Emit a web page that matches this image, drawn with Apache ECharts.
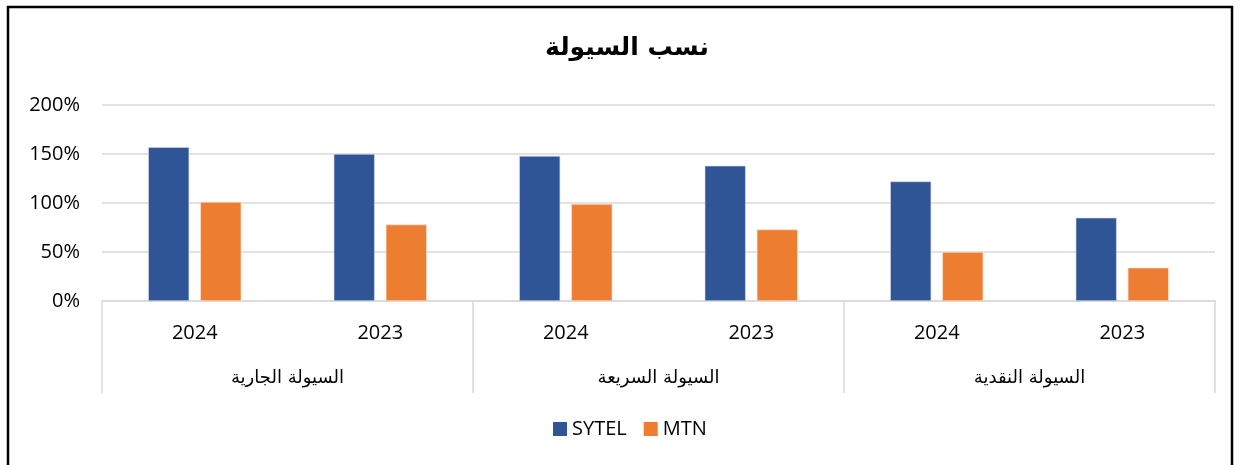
<!DOCTYPE html>
<html>
<head>
<meta charset="utf-8">
<script src="https://cdn.jsdelivr.net/npm/echarts@6/dist/echarts.min.js"></script>
<style>
  html, body { margin: 0; padding: 0; background: #fff; }
  #chart { width: 1242px; height: 465px; }
</style>
</head>
<body>
<div id="chart"></div>
<script>
// السنوات والمجموعات
var years = ['2024', '2023', '2024', '2023', '2024', '2023'];
var groups = ['السيولة الجارية', 'السيولة السريعة', 'السيولة النقدية'];
var sytel = [157, 150, 148, 138, 122, 85];
var mtn = [101, 78, 99, 73, 50, 34];
var yTicks = [0, 50, 100, 150, 200];

var arabicFont = '"DejaVu Sans", "Noto Sans", sans-serif';
var latinFont = '"Open Sans", "Noto Sans", sans-serif';

var chart = echarts.init(document.getElementById('chart'));

var option = {
    backgroundColor: '#fff',
    animation: false,
    title: {
        text: 'نسب السيولة',
        left: 540,
        top: 31,
        textStyle: {
            fontFamily: arabicFont,
            fontSize: 25,
            fontWeight: 'bold',
            color: '#000'
        }
    },
    color: ['#2F5597', '#ED7D31'],
    grid: {
        left: 102,
        right: 27,
        top: 105,
        bottom: 164
    },
    legend: {
        bottom: 21,
        left: 548,
        itemWidth: 14,
        itemHeight: 14,
        itemGap: 17,
        icon: 'rect',
        itemStyle: { borderWidth: 0 },
        textStyle: {
            fontFamily: latinFont,
            fontSize: 20,
            color: '#000'
        },
        data: ['SYTEL', 'MTN']
    },
    xAxis: [{
        type: 'category',
        data: years,
        position: 'bottom',
        axisLine: { lineStyle: { color: '#D9D9D9', width: 1.5 } },
        axisTick: { show: false },
        axisLabel: {
            margin: 22,
            fontFamily: latinFont,
            fontSize: 20,
            color: '#000'
        }
    }, {
        type: 'category',
        data: groups,
        position: 'bottom',
        axisLine: { show: false },
        axisTick: {
            show: true,
            length: 92,
            lineStyle: { color: '#D9D9D9', width: 1.5 }
        },
        axisLabel: {
            margin: 68,
            fontFamily: arabicFont,
            fontSize: 18,
            color: '#000'
        }
    }],
    yAxis: {
        type: 'value',
        min: 0,
        max: 200,
        interval: 50,
        axisLine: { show: false },
        axisTick: { show: false },
        splitLine: { lineStyle: { color: '#D9D9D9', width: 1.5 } },
        axisLabel: {
            margin: 22,
            fontFamily: latinFont,
            fontSize: 20,
            color: '#000',
            formatter: function (v) { return v + '%'; }
        }
    },
    series: [{
        name: 'SYTEL',
        type: 'bar',
        xAxisIndex: 0,
        data: sytel,
        barWidth: 41,
        barGap: '27%',
        itemStyle: { borderColor: '#D6DCE5', borderWidth: 0.6 }
    }, {
        name: 'MTN',
        type: 'bar',
        xAxisIndex: 0,
        data: mtn,
        barWidth: 41,
        barGap: '27%',
        itemStyle: { borderColor: '#FBE5D6', borderWidth: 0.6 }
    }],
    graphic: [{
        type: 'rect',
        shape: { x: 8, y: 7, width: 1224, height: 470 },
        style: { fill: null, stroke: '#000', lineWidth: 2.5 },
        silent: true
    }]
};

chart.setOption(option);
</script>
</body>
</html>
